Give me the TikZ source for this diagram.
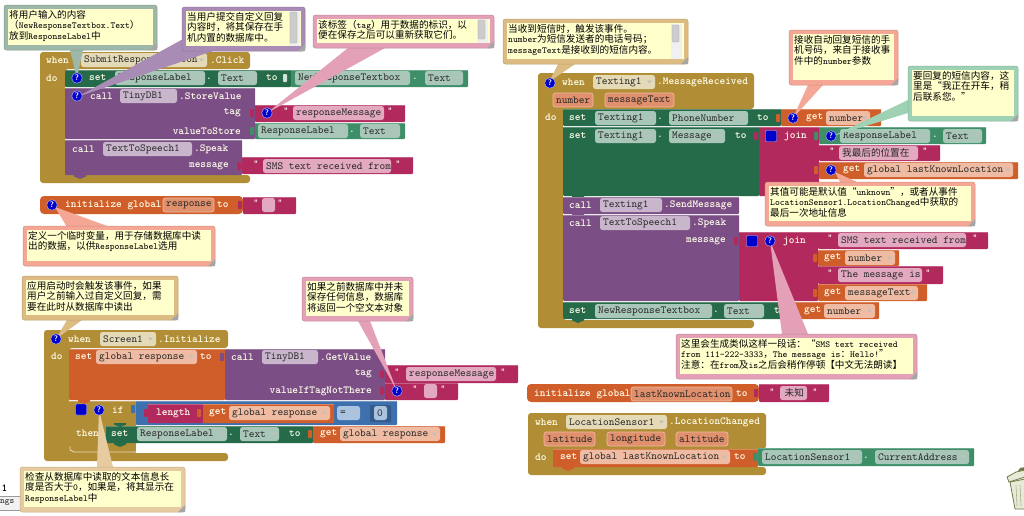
\documentclass[tikz,border=0pt]{standalone}
\usepackage{fontspec}
\newfontfamily\cjk{Noto Sans CJK SC}
\newcommand{\cn}[1]{{\cjk\fontsize{9.6}{10}\selectfont #1}}
\newcommand{\notefont}{\ttfamily\fontsize{9.2}{10.5}\selectfont\lineskiplimit=-20pt\relax}
\definecolor{goldblk}{HTML}{B18D35}
\definecolor{greendk}{HTML}{266B49}
\definecolor{greenlt}{HTML}{3E8F68}
\definecolor{purpblk}{HTML}{7B4F85}
\definecolor{crimblk}{HTML}{B22A5D}
\definecolor{orngblk}{HTML}{D05E2A}
\definecolor{blueblk}{HTML}{3E70AE}
\definecolor{goldpill}{HTML}{E4DAB8}
\definecolor{greenpill}{HTML}{A9C7B8}
\definecolor{purppill}{HTML}{C9B6CC}
\definecolor{crimpill}{HTML}{E2A9C0}
\definecolor{orngpill}{HTML}{EFBBA2}
\definecolor{bluepill}{HTML}{A9C3E0}
\definecolor{parmpill}{HTML}{E0906C}
\definecolor{notecream}{HTML}{FFFFCC}
\definecolor{notegreen}{HTML}{9DB8A8}
\definecolor{notemint}{HTML}{9FD1B5}
\definecolor{notepurp}{HTML}{A98CB5}
\definecolor{notepink}{HTML}{E3A0B6}
\definecolor{notesalm}{HTML}{F5A796}
\definecolor{notetan}{HTML}{DDBC84}
\definecolor{notesand}{HTML}{E6CBA0}
\definecolor{trashfill}{HTML}{E6EAD6}
\definecolor{trashline}{HTML}{6E7A48}
\tikzstyle{blocktext} = [inner sep=0pt, text=white!92!yellow, font=\ttfamily\bfseries\fontsize{10.8}{11}\selectfont]
\tikzstyle{pilltext} = [inner sep=0pt, text=black!85, font=\ttfamily\fontsize{10.8}{11}\selectfont]
\tikzstyle{notetext} = [inner sep=0pt, anchor=north west, align=left, text=black, font=\notefont]
\tikzstyle{helpdot} = [circle, draw=white!75!blue, fill=blue!80!black, minimum size=10.5pt, inner sep=0pt, text=white, font=\sffamily\bfseries\fontsize{8}{8}\selectfont]
\tikzstyle{bluesq} = [draw=white!70!blue, fill=blue!80!black, rounded corners=1pt, minimum size=11pt, inner sep=0pt]
\tikzstyle{trashpart} = [fill=trashfill, draw=trashline, line width=.8pt]
% block and frame shapes
\newcommand{\blk}[5]{\fill[#1, rounded corners=1pt] (#2,#3) rectangle (#4,#5);
  \draw[#1!75!white, line width=.6pt] (#2,#3) -- (#4,#3);}
\newcommand{\goldframe}[7]{\fill[goldblk, rounded corners=3pt] (#1,#2) -- (#3,#2) -- (#3,#5) -- (#6,#5) -- (#6,#7) -- (#3,#7) -- (#3,#4) -- (#1,#4) -- cycle;}
\newcommand{\lbl}[3]{\node[blocktext, anchor=west] at (#1,#2) {#3};}
\newcommand{\rlbl}[3]{\node[blocktext, anchor=east] at (#1,#2) {#3};}
\newcommand{\fieldpill}[5]{\fill[#1, rounded corners=2.5pt] (#2,{#4-7}) rectangle (#3,{#4+7});
  \node[pilltext, anchor=west] at ({#2+3},#4) {#5};}
\newcommand{\droppill}[5]{\fieldpill{#1}{#2}{#3}{#4}{#5}
  \fill[black!25] ({#3-8},{#4-1.5}) -- ({#3-3},{#4-1.5}) -- ({#3-5.5},{#4+1.5}) -- cycle;}
\newcommand{\parmpillbox}[4]{\fill[parmpill, draw=orngpill, line width=.7pt, rounded corners=2.5pt] (#1,{#3-7}) rectangle (#2,{#3+7});
  \node[pilltext, anchor=west] at ({#1+3},#3) {#4};}
\newcommand{\lefttab}[3]{\fill[#1, rounded corners=.8pt] ({#2+1},{#3-4}) -- ({#2-3},{#3-4}) -- ({#2-3},{#3+4}) -- ({#2+1},{#3+4}) -- cycle;}
\newcommand{\bump}[3]{\fill[#1] ({#2-6},#3) -- ({#2+6},#3) -- ({#2+6},{#3+1.5}) -- (#2,{#3+4}) -- ({#2-6},{#3+1.5}) -- cycle;}
\newcommand{\qmarks}[3]{\node[blocktext] at (#1,{#3-2}) {\fontsize{9}{9}\selectfont"}; \node[blocktext] at (#2,{#3-2}) {\fontsize{9}{9}\selectfont"};}
% comment balloon
\newcommand{\cmtbox}[7]{\fill[#1] #6 -- cycle;
  \fill[#1, draw=#1!85!black, line width=.5pt, rounded corners=2.5pt] (#2,#3) rectangle (#4,#5);
  \fill[notecream] ({#2+4},{#3+4}) rectangle ({#4-4},{#5-5});
  \fill[black!35] (#4,{#5-7}) -- (#4,#5) -- ({#4-7},#5) -- cycle;
  \node[notetext] at ({#2+5},{#3+5}) {#7};}
\newcommand{\cmtbar}[4]{\fill[black!6] ({#1-1},#2) rectangle ({#1+10},#3);
  \fill[black!20, draw=black!35, line width=.3pt, rounded corners=1pt] (#1,{#2+1}) rectangle ({#1+7},{#2+#4});}
\begin{document}
\begin{tikzpicture}[x=1pt, y=-1pt]
  \useasboundingbox (0,0) rectangle (1024,515);
  \fill[white] (0,0) rectangle (1024,515);

  % left edge tab
  \node[blocktext, text=black] (pagenum) at (4.5,488) {1};
  \draw[black!40, fill=black!5] (-1,496) rectangle (22,510);
  \node[pilltext, anchor=west, font=\ttfamily\fontsize{9}{9}\selectfont] (tabtext) at (0,503) {ngs};

  % SubmitResponseButton.Click
  \goldframe{40}{52}{250}{183}{69}{65}{175}
  \lbl{46}{60}{when}
  \droppill{goldpill}{81}{207}{60}{SubmitResponseButton}
  \lbl{210}{60}{.Click}
  \lbl{46}{78}{do}
  \blk{greendk}{65}{70}{291}{87}
  \lbl{89}{78}{set}
  \droppill{greenpill}{115}{205}{78}{ResponseLabel}
  \lbl{206}{79}{.}
  \droppill{greenpill}{218}{257}{78}{Text}
  \lbl{266}{78}{to}
  \lefttab{white!80!greendk}{286}{78}
  \blk{greenlt}{291}{70}{468}{87}
  \droppill{greenpill}{295}{410}{78}{NewResponseTextbox}
  \lbl{412}{79}{.}
  \droppill{greenpill}{425}{463}{78}{Text}
  \blk{purpblk}{65}{88}{255}{139}
  \lbl{90}{96}{call}
  \droppill{purppill}{120}{177}{96}{TinyDB1}
  \lbl{179}{96}{.StoreValue}
  \rlbl{241}{113}{tag}
  \rlbl{241}{131}{valueToStore}
  \blk{crimblk}{255}{105}{405}{122}
  \lefttab{crimblk}{253}{113}
  \qmarks{286}{390}{113}
  \fieldpill{crimpill}{293}{384}{113}{responseMessage}
  \blk{greenlt}{255}{123}{405}{139}
  \lefttab{greenlt}{253}{131}
  \droppill{greenpill}{258}{348}{131}{ResponseLabel}
  \lbl{349}{132}{.}
  \droppill{greenpill}{360}{400}{131}{Text}
  \blk{purpblk}{65}{140}{242}{175}
  \bump{purpblk}{80}{175}
  \lbl{72}{149}{call}
  \droppill{purppill}{103}{192}{149}{TextToSpeech1}
  \lbl{194}{149}{.Speak}
  \rlbl{229}{166}{message}
  \blk{crimblk}{242}{157}{413}{174}
  \lefttab{crimblk}{240}{166}
  \qmarks{256}{398}{166}
  \fieldpill{crimpill}{263}{391}{166}{SMS text received from}

  % initialize global response
  \fill[orngblk, rounded corners=4pt] (40,196) rectangle (243,214);
  \lbl{65}{205}{initialize global}
  \parmpillbox{163}{214}{205}{response}
  \lbl{217}{205}{to}
  \blk{crimblk}{243}{197}{296}{214}
  \lefttab{crimblk}{241}{205}
  \qmarks{256}{280}{205}
  \fieldpill{crimpill}{262}{275}{205}{}

  % Screen1.Initialize
  \goldframe{44}{330}{228}{461}{348}{69}{453}
  \lbl{68}{339}{when}
  \droppill{goldpill}{100}{156}{339}{Screen1}
  \lbl{158}{339}{.Initialize}
  \lbl{51}{356}{do}
  \blk{orngblk}{69}{349}{225}{400}
  \blk{goldblk}{69}{401}{136}{453}
  \bump{orngblk}{84}{400}
  \lbl{75}{357}{set}
  \droppill{orngpill}{96}{197}{357}{global response}
  \lbl{200}{357}{to}
  \blk{purpblk}{225}{349}{385}{400}
  \lefttab{purpblk}{223}{357}
  \lbl{231}{357}{call}
  \droppill{purppill}{262}{318}{357}{TinyDB1}
  \lbl{320}{357}{.GetValue}
  \rlbl{372}{374}{tag}
  \rlbl{372}{391}{valueIfTagNotThere}
  \blk{crimblk}{385}{365}{518}{383}
  \lefttab{crimblk}{383}{374}
  \qmarks{397}{503}{374}
  \fieldpill{crimpill}{406}{496}{374}{responseMessage}
  \blk{crimblk}{385}{383}{458}{400}
  \lefttab{crimblk}{383}{391}
  \qmarks{415}{443}{391}
  \fieldpill{crimpill}{424}{437}{391}{}
  \lbl{112}{410}{if}
  \node[bluesq] (ifsq) at (81,409.5) {};
  \blk{blueblk}{136}{401}{397}{425}
  \lefttab{blueblk}{134}{409}
  \blk{crimblk}{148}{404}{203}{423}
  \lefttab{crimblk}{147}{413}
  \lbl{156}{413}{length}
  \blk{orngblk}{203}{404}{334}{423}
  \lefttab{orngblk}{200}{413}
  \lbl{209}{413}{get}
  \droppill{orngpill}{229}{330}{413}{global response}
  \droppill{bluepill}{337}{360}{413}{=}
  \fill[blueblk!80!black, rounded corners=1pt] (370,405) rectangle (391,422);
  \fieldpill{bluepill}{374}{387}{413}{0}
  \lbl{76}{433}{then}
  \blk{greendk}{106}{426}{313}{443}
  \bump{greendk}{120}{443}
  \bump{greendk}{120}{423}
  \lbl{111}{434}{set}
  \droppill{greenpill}{137}{227}{434}{ResponseLabel}
  \lbl{228}{435}{.}
  \droppill{greenpill}{240}{279}{434}{Text}
  \lbl{289}{434}{to}
  \blk{orngblk}{313}{426}{445}{443}
  \lefttab{orngblk}{311}{434}
  \lbl{320}{434}{get}
  \droppill{orngpill}{340}{440}{434}{global response}
  \fill[white] (136,444) rectangle (230,452.5);
  \draw[white!70!goldblk, line width=.7pt] (70,446) -- (70,450) -- (74,452) -- (136,452);

  % Texting1.MessageReceived
  \goldframe{538}{73}{754}{328}{109}{563}{320}
  \lbl{562}{82}{when}
  \droppill{goldpill}{593}{655}{82}{Texting1}
  \lbl{657}{82}{.MessageReceived}
  \parmpillbox{553}{593}{100}{number}
  \parmpillbox{605}{674}{100}{messageText}
  \lbl{545}{117}{do}
  \blk{greendk}{563}{109}{781}{126}
  \lbl{569}{118}{set}
  \droppill{greenpill}{595}{656}{118}{Texting1}
  \lbl{657}{119}{.}
  \droppill{greenpill}{669}{748}{118}{PhoneNumber}
  \lbl{757}{118}{to}
  \blk{orngblk}{781}{109}{881}{126}
  \lefttab{orngblk}{779}{118}
  \lbl{806}{118}{get}
  \droppill{orngpill}{826}{870}{118}{number}
  \blk{greendk}{563}{127}{759}{196}
  \bump{greendk}{578}{196}
  \lbl{569}{136}{set}
  \droppill{greenpill}{595}{656}{136}{Texting1}
  \lbl{657}{137}{.}
  \droppill{greenpill}{669}{725}{136}{Message}
  \lbl{735}{136}{to}
  \blk{crimblk}{759}{127}{819}{196}
  \lefttab{crimblk}{757}{136}
  \node[bluesq] (msgsq) at (771,136) {};
  \lbl{784}{136}{join}
  \blk{greenlt}{819}{127}{986}{144}
  \lefttab{greenlt}{817}{136}
  \droppill{greenpill}{840}{930}{136}{ResponseLabel}
  \lbl{932}{137}{.}
  \droppill{greenpill}{943}{982}{136}{Text}
  \blk{crimblk}{819}{145}{940}{161}
  \lefttab{crimblk}{817}{153}
  \qmarks{832}{925}{153}
  \fieldpill{crimpill}{839}{918}{153}{\cn{我最后的位置在}}
  \blk{orngblk}{819}{162}{1018}{179}
  \lefttab{orngblk}{817}{170}
  \lbl{843}{170}{get}
  \droppill{orngpill}{864}{1013}{170}{global lastKnownLocation}
  \blk{purpblk}{563}{197}{739}{214}
  \bump{purpblk}{578}{214}
  \lbl{569}{205}{call}
  \droppill{purppill}{600}{662}{205}{Texting1}
  \lbl{664}{205}{.SendMessage}
  \blk{purpblk}{563}{215}{739}{301}
  \lbl{569}{223}{call}
  \droppill{purppill}{600}{690}{223}{TextToSpeech1}
  \lbl{692}{223}{.Speak}
  \rlbl{726}{241}{message}
  \blk{crimblk}{739}{232}{818}{301}
  \lefttab{crimblk}{737}{241}
  \node[bluesq] (spksq) at (752,241) {};
  \lbl{783}{241}{join}
  \blk{crimblk}{818}{232}{988}{249}
  \lefttab{crimblk}{816}{240}
  \qmarks{830}{975}{240}
  \fieldpill{crimpill}{838}{966}{240}{SMS text received from}
  \blk{orngblk}{818}{250}{899}{266}
  \lefttab{orngblk}{816}{258}
  \lbl{824}{258}{get}
  \droppill{orngpill}{845}{895}{258}{number}
  \blk{crimblk}{818}{266}{943}{284}
  \lefttab{crimblk}{816}{275}
  \qmarks{830}{928}{275}
  \fieldpill{crimpill}{838}{922}{275}{The message is}
  \blk{orngblk}{818}{284}{927}{301}
  \lefttab{orngblk}{816}{293}
  \lbl{824}{293}{get}
  \droppill{orngpill}{845}{918}{293}{messageText}
  \blk{greendk}{563}{302}{795}{319}
  \bump{greendk}{578}{319}
  \lbl{569}{311}{set}
  \droppill{greenpill}{595}{712}{311}{NewResponseTextbox}
  \lbl{713}{312}{.}
  \droppill{greenpill}{724}{764}{311}{Text}
  \lbl{774}{311}{to}
  \blk{orngblk}{795}{302}{879}{319}
  \lbl{804}{311}{get}
  \droppill{orngpill}{824}{875}{311}{number}

  % initialize global lastKnownLocation
  \fill[orngblk, rounded corners=4pt] (527,384) rectangle (759,402);
  \lbl{534}{394}{initialize global}
  \parmpillbox{631}{732}{394}{lastKnownLocation}
  \lbl{736}{394}{to}
  \blk{crimblk}{759}{384}{829}{402}
  \lefttab{crimblk}{757}{393}
  \qmarks{772}{815}{394}
  \fieldpill{crimpill}{780}{807}{393}{\hspace{1.5pt}\cn{未知}}

  % LocationSensor1.LocationChanged
  \goldframe{528}{413}{766}{475}{449}{553}{467}
  \lbl{535}{422}{when}
  \droppill{goldpill}{566}{667}{422}{LocationSensor1}
  \lbl{669}{422}{.LocationChanged}
  \parmpillbox{544}{595}{439}{latitude}
  \parmpillbox{607}{665}{439}{longitude}
  \parmpillbox{676}{728}{439}{altitude}
  \lbl{535}{457}{do}
  \blk{orngblk}{553}{449}{758}{467}
  \bump{orngblk}{568}{467}
  \lbl{560}{457}{set}
  \droppill{orngpill}{580}{730}{457}{global lastKnownLocation}
  \lbl{734}{457}{to}
  \blk{greenlt}{758}{448}{974}{466}
  \lefttab{greenlt}{756}{457}
  \droppill{greenpill}{762}{862}{457}{LocationSensor1}
  \lbl{863}{458}{.}
  \droppill{greenpill}{875}{969}{457}{CurrentAddress}

  % trash can
  \path[trashpart] (1010,482) -- (1015,509) -- (1025,509) -- (1025,479) -- cycle;
  \foreach \ribx in {1016,1020}
    \draw[trashline!60, line width=.6pt] (\ribx,485) -- ({\ribx+1},506);
  \path[trashpart] (1007,477) -- (1016,472) -- (1025,470) -- (1025,477) -- (1009,482) -- cycle;
  \fill[trashline] (1018,471) -- (1020,468) -- (1025,467) -- (1025,470) -- cycle;

  % comments
  \cmtbox{notegreen}{4}{5}{157}{50}{(70,50) -- (77,78) -- (83,50)}{\cn{将用户输入的内容}\\\cn{（}NewResponseTextbox.Text\cn{）}\\\cn{放到}ResponseLabel\cn{中}}
  \cmtbox{notepurp}{182}{7}{305}{51}{(185,38) -- (77,97) -- (213,51)}{\cn{当用户提交自定义回复}\\\cn{内容时，将其保存在手}\\\cn{机内置的数据库中。}}
  \cmtbar{290}{11}{46}{32}
  \cmtbox{notepink}{313}{15}{494}{48}{(348,48) -- (267,113) -- (385,48)}{\cn{该标签（}tag\cn{）用于数据的标识，以}\\\cn{便在保存之后可以重新获取它们。}}
  \cmtbar{478}{19}{43}{20}
  \cmtbox{notesalm}{23}{226}{215}{266}{(55,207) -- (110,227) -- (67,227)}{\cn{定义一个临时变量，用于存储数据库中读}\\\cn{出的数据，以供}ResponseLabel\cn{选用}}
  \cmtbox{notetan}{22}{276}{178}{320}{(67,320) -- (56,339) -- (82,320)}{\cn{应用启动时会触发该事件，如果}\\\cn{用户之前输入过自定义回复，需}\\\cn{要在此时从数据库中读出}}
  \cmtbox{notepink}{302}{277}{413}{321}{(358,321) -- (397,391) -- (370,321)}{\cn{如果之前数据库中并未}\\\cn{保存任何信息，数据库}\\\cn{将返回一个空文本对象}}
  \cmtbox{notesand}{20}{467}{185}{512}{(97,467) -- (99,410) -- (113,467)}{\cn{检查从数据库中读取的文本信息长}\\\cn{度是否大于}0\cn{，如果是，将其显示在}\\ResponseLabel\cn{中}}
  \cmtbox{notetan}{503}{19}{688}{64}{(558,64) -- (549,82) -- (575,64)}{\cn{当收到短信时，触发该事件。}\\number\cn{为短信发送者的电话号码；}\\messageText\cn{是接收到的短信内容。}}
  \cmtbar{672}{24}{59}{18}
  \cmtbox{notesalm}{789}{30}{898}{85}{(808,85) -- (793,118) -- (823,85)}{\cn{接收自动回复短信的手}\\\cn{机号码，来自于接收事}\\\cn{件中的}number\cn{参数}}
  \cmtbox{notemint}{908}{66}{1018}{121}{(908,100) -- (833,136) -- (908,113)}{\cn{要回复的短信内容，这}\\\cn{里是“我正在开车，稍}\\\cn{后联系您。”}}
  \cmtbox{notesalm}{765}{182}{975}{226}{(840,182) -- (835,172) -- (857,182)}{\cn{其值可能是默认值“}unknown\cn{”，或者从事件}\\LocationSensor1.LocationChanged\cn{中获取的}\\\cn{最后一次地址信息}}
  \cmtbox{notepink}{676}{334}{917}{379}{(782,334) -- (770,241) -- (808,334)}{\cn{这里会生成类似这样一段话：“}SMS text received\\from 111-222-3333\cn{，}The message is\cn{：}Hello!\cn{”}\\\cn{注意：在}from\cn{及}is\cn{之后会稍作停顿【中文无法朗读】}}

  % help buttons
  \node[helpdot] (help1) at (77,78) {?};
  \node[helpdot] (help2) at (77,96) {?};
  \node[helpdot] (help3) at (267,113) {?};
  \node[helpdot] (help4) at (52,205) {?};
  \node[helpdot] (help5) at (56,339) {?};
  \node[helpdot] (help6) at (99,410) {?};
  \node[helpdot] (help7) at (397,391) {?};
  \node[helpdot] (help8) at (550,83) {?};
  \node[helpdot] (help9) at (793,118) {?};
  \node[helpdot] (help10) at (831,136) {?};
  \node[helpdot] (help11) at (831,170) {?};
  \node[helpdot] (help12) at (770,241) {?};
\end{tikzpicture}
\end{document}
